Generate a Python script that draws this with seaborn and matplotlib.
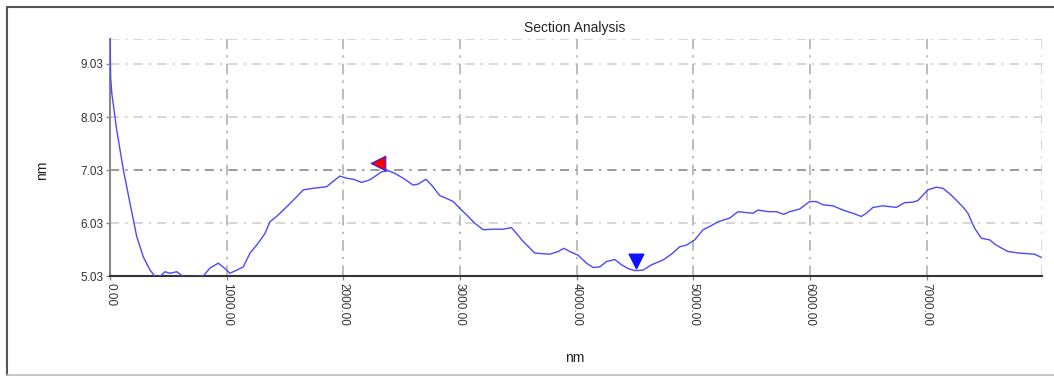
import seaborn as sns
import matplotlib.pyplot as plt
import matplotlib.lines as mlines
import pandas as pd
import numpy as np

# Perfil da secao (distancia em nm, altura em nm)
distancia = [0, 5, 15, 57, 114, 171, 229, 285, 343, 386, 428, 471, 514, 572, 628, 714,
             800, 857, 928, 985, 1028, 1086, 1142, 1200, 1271, 1328, 1371, 1428, 1514, 1600,
             1656, 1742, 1857, 1913, 1971, 2028, 2085, 2157, 2228, 2328, 2385, 2442, 2513,
             2599, 2642, 2708, 2757, 2828, 2885, 2942, 2999, 3057, 3128, 3199, 3285, 3370,
             3442, 3542, 3642, 3770, 3842, 3890, 3942, 4013, 4085, 4141, 4199, 4256, 4327,
             4385, 4441, 4499, 4570, 4642, 4741, 4813, 4884, 4942, 5013, 5084, 5141, 5213,
             5313, 5384, 5512, 5555, 5641, 5713, 5776, 5827, 5913, 5998, 6056, 6112, 6198,
             6284, 6369, 6441, 6484, 6541, 6626, 6741, 6812, 6884, 6926, 7012, 7084, 7141,
             7213, 7312, 7355, 7412, 7470, 7541, 7598, 7697, 7798, 7926, 7984]
altura = [9.50, 8.78, 8.48, 7.79, 7.04, 6.41, 5.78, 5.40, 5.15, 5.03, 5.03, 5.12, 5.09, 5.12,
          5.03, 5.03, 5.04, 5.19, 5.28, 5.18, 5.09, 5.15, 5.21, 5.47, 5.66, 5.84, 6.06, 6.16,
          6.34, 6.53, 6.66, 6.69, 6.72, 6.82, 6.92, 6.88, 6.86, 6.80, 6.85, 7.00, 7.02, 6.97,
          6.88, 6.75, 6.77, 6.86, 6.75, 6.55, 6.50, 6.44, 6.31, 6.19, 6.03, 5.91, 5.92, 5.92,
          5.95, 5.69, 5.47, 5.45, 5.50, 5.56, 5.50, 5.43, 5.28, 5.20, 5.21, 5.31, 5.35, 5.25,
          5.18, 5.14, 5.15, 5.25, 5.34, 5.45, 5.59, 5.62, 5.72, 5.91, 5.97, 6.06, 6.13, 6.25,
          6.22, 6.28, 6.25, 6.25, 6.20, 6.25, 6.30, 6.44, 6.44, 6.38, 6.36, 6.28, 6.22, 6.16,
          6.22, 6.33, 6.36, 6.33, 6.42, 6.43, 6.46, 6.66, 6.71, 6.69, 6.56, 6.34, 6.22, 5.94,
          5.75, 5.72, 5.62, 5.50, 5.47, 5.45, 5.39]

# Cursores
cursor_vermelho = (2297, 7.17)
cursor_azul = (4507, 5.32)

y_ticks = [5.03, 6.03, 7.03, 8.03, 9.03]
x_ticks = [0, 1000, 2000, 3000, 4000, 5000, 6000, 7000]

dados = pd.DataFrame({'x': distancia, 'y': altura})

sns.set_style("white")
plt.rcParams['font.family'] = ['Liberation Sans', 'DejaVu Sans']

fig = plt.figure(figsize=(10.54, 3.77), dpi=100)
ax = fig.add_axes([0.1044, 0.2666, 0.8842, 0.63])

# moldura externa: topo e esquerda escuros, base clara
W, H = 1054, 377
fig.lines.append(mlines.Line2D([7 / W, 1.0], [1 - 7 / H, 1 - 7 / H], transform=fig.transFigure,
                               color='#555555', lw=1.5))
fig.lines.append(mlines.Line2D([7 / W, 7 / W], [1 - 7 / H, 1 - 375 / H], transform=fig.transFigure,
                               color='#555555', lw=1.5))
fig.lines.append(mlines.Line2D([7 / W, 1.0], [1 - 375 / H, 1 - 375 / H], transform=fig.transFigure,
                               color='#bbbbbb', lw=1.2))

# grade
traco = (0, (6, 4, 1.5, 4))
for v in [6.03, 8.03, 9.03, 9.50]:
    ax.axhline(v, color='#cccccc', lw=1.1, ls=traco, zorder=1)
ax.axhline(7.03, color='#808080', lw=1.1, ls=traco, zorder=1)
for v in x_ticks[1:]:
    ax.axvline(v, color='#aaaaaa', lw=1.1, ls=(0, (7, 4, 1.5, 4)), zorder=1)
ax.axvline(7990, color='#cccccc', lw=1.1, ls=(0, (7, 4, 1.5, 4)), zorder=1)

sns.lineplot(data=dados, x='x', y='y', ax=ax, color='#4a4aff', lw=1.0, zorder=3)

ax.scatter([cursor_vermelho[0]], [cursor_vermelho[1]], marker='<', s=110, color='red',
           edgecolor='#2020ff', linewidth=0.8, zorder=4)
ax.scatter([cursor_azul[0]], [cursor_azul[1]], marker='v', s=110, color='#1010ff',
           edgecolor='#1010ff', zorder=4)

ax.set_xlim(0, 7990)
ax.set_ylim(5.03, 9.50)
ax.set_yticks(y_ticks)
ax.set_yticklabels([f'{v:.2f}' for v in y_ticks], fontsize=8.5, color='#333333')
ax.set_xticks(x_ticks)
ax.set_xticklabels([f'{v:.2f}' for v in x_ticks], rotation=-90, fontsize=8.5, color='#333333')
ax.tick_params(axis='both', length=3, width=1, color='#888888', pad=2, left=True, bottom=True)

for s in ['top', 'right']:
    ax.spines[s].set_visible(False)
ax.spines['left'].set_color('#888888')
ax.spines['left'].set_linewidth(1.5)
ax.spines['bottom'].set_color('#333333')
ax.spines['bottom'].set_linewidth(1.5)

ax.set_xlabel('')
ax.set_ylabel('')
fig.text(575 / W, 1 - 28 / H, 'Section Analysis', ha='center', va='center', fontsize=10, color='#222222')
fig.text(575 / W, 1 - 358 / H, 'nm', ha='center', va='center', fontsize=10, color='#222222')
fig.text(42 / W, 1 - 170 / H, 'nm', ha='center', va='center', fontsize=10, rotation=90, color='#222222')

plt.savefig('out.png', dpi=100)
